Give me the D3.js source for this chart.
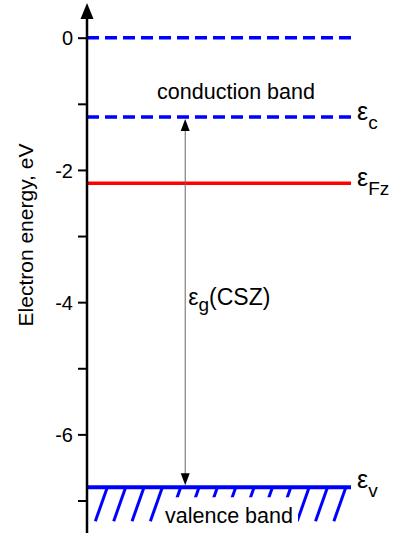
<!DOCTYPE html>
<html>
<head>
<meta charset="utf-8">
<script src="https://cdn.jsdelivr.net/npm/d3@7"></script>
<style>
body { margin: 0; background: #fff; }
text { font-family: "Liberation Sans", Arial, sans-serif; fill: #000; }
</style>
</head>
<body>
<div id="chart"></div>
<script>
// energy levels, eV
var levelNames = ["vac", "c", "Fz", "v"];
var levelValues = [0, -1.2, -2.2, -6.8];
var levelColors = ["#0000ff", "#0000ff", "#ff0000", "#0000ff"];
var levelDashed = [true, true, false, false];
var tickValues = [0, -1, -2, -3, -4, -5, -6, -7];

var svgWidth = 398;
var svgHeight = 533;

var svg = d3.select("#chart")
    .append("svg")
    .attr("width", svgWidth)
    .attr("height", svgHeight);

// horizontal position is just a fraction of the diagram width
var x = d3.scaleLinear()
    .domain([0, 1])
    .range([87, 351]);

var y = d3.scaleLinear()
    .domain([0, -7])
    .range([37.7, 500.5]);

var yAxis = d3.axisLeft(y)
    .tickValues(tickValues)
    .tickSize(9)
    .tickPadding(5)
    .tickFormat(d => d % 2 === 0 ? String(d) : "");

var axisG = svg.append("g")
    .attr("transform", `translate(${x(0)},0)`)
    .call(yAxis);
axisG.select(".domain").remove();
axisG.selectAll(".tick line").attr("stroke", "#000").attr("stroke-width", 2);
axisG.selectAll(".tick text")
    .style("font-size", "20px")
    .attr("dy", "0.36em")
    .attr("fill", "#000");

// level lines
svg.selectAll(".level")
    .data(levelValues)
    .enter()
    .append("line")
    .attr("class", "level")
    .attr("x1", x(0))
    .attr("x2", x(1))
    .attr("y1", d => y(d))
    .attr("y2", d => y(d))
    .attr("stroke", (d, i) => levelColors[i])
    .attr("stroke-width", (d, i) => i === 3 ? 4 : 3.5)
    .attr("stroke-dasharray", (d, i) => levelDashed[i] ? "12,6" : null);

// hatching under the valence band
var yv = y(levelValues[3]);
var hatchTop = d3.range(14).map(i => 0.077 + i * 0.0695);
svg.selectAll(".hatch")
    .data(hatchTop)
    .enter()
    .append("line")
    .attr("class", "hatch")
    .attr("x1", d => x(d))
    .attr("y1", yv)
    .attr("x2", d => x(d) - 12)
    .attr("y2", yv + 34)
    .attr("stroke", "#0000ff")
    .attr("stroke-width", 3);

svg.append("rect")
    .attr("x", 162)
    .attr("y", yv + 10)
    .attr("width", 136)
    .attr("height", 40)
    .attr("fill", "#fff");

svg.append("text")
    .attr("x", 229)
    .attr("y", 523)
    .attr("text-anchor", "middle")
    .style("font-size", "21.5px")
    .text("valence band");

svg.append("text")
    .attr("x", 236)
    .attr("y", 99)
    .attr("text-anchor", "middle")
    .style("font-size", "21.5px")
    .text("conduction band");

// main axis line with arrow
svg.append("line")
    .attr("x1", x(0))
    .attr("x2", x(0))
    .attr("y1", 12)
    .attr("y2", svgHeight)
    .attr("stroke", "#000")
    .attr("stroke-width", 2.5);
svg.append("path")
    .attr("d", `M${x(0)},3 L${x(0) - 6.5},19 L${x(0) + 6.5},19 Z`)
    .attr("fill", "#000");

// band-gap double arrow
var ax = x(0.372);
var yc = y(levelValues[1]) + 2;
var yb = y(levelValues[3]) - 2;
svg.append("line")
    .attr("x1", ax).attr("x2", ax)
    .attr("y1", yc + 8).attr("y2", yb - 8)
    .attr("stroke", "#666")
    .attr("stroke-width", 1);
svg.append("path")
    .attr("d", `M${ax},${yc} L${ax - 4.5},${yc + 12} L${ax + 4.5},${yc + 12} Z`)
    .attr("fill", "#000");
svg.append("path")
    .attr("d", `M${ax},${yb} L${ax - 4.5},${yb - 12} L${ax + 4.5},${yb - 12} Z`)
    .attr("fill", "#000");

var gap = svg.append("text")
    .attr("x", ax + 3)
    .attr("y", 305)
    .style("font-size", "23px");
gap.append("tspan").text("ε");
gap.append("tspan").attr("dy", 6).style("font-size", "19px").text("g");
gap.append("tspan").attr("dy", -6).text("(CSZ)");

// level labels on the right
var labelLevels = [1, 2, 3];
labelLevels.forEach(function(i) {
    var t = svg.append("text")
        .attr("x", x(1) + 6)
        .attr("y", y(levelValues[i]) + (i === 3 ? 1 : 3))
        .style("font-size", "25px");
    t.append("tspan").text("ε");
    t.append("tspan")
        .attr("dy", 9)
        .style("font-size", "19px")
        .text(levelNames[i]);
});

// y axis title
svg.append("text")
    .attr("transform", "translate(33, 235) rotate(-90)")
    .attr("text-anchor", "middle")
    .style("font-size", "21px")
    .text("Electron energy, eV");
</script>
</body>
</html>
